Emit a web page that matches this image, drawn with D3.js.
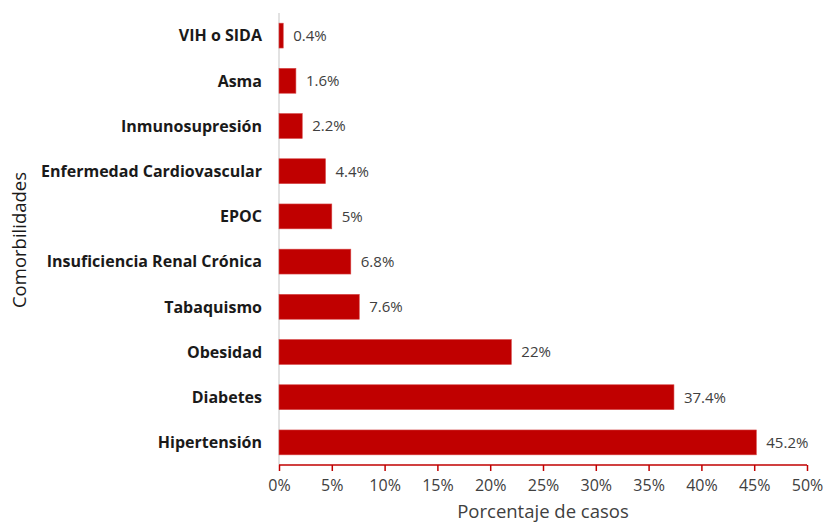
<!DOCTYPE html>
<html>
<head>
<meta charset="utf-8">
<script src="https://cdn.jsdelivr.net/npm/d3@7"></script>
<style>
  body { margin: 0; background: #fff; }
  text { font-family: "Open Sans", Lato, sans-serif; }
</style>
</head>
<body>
<div id="chart"></div>
<script>
// Chart data
const categories = ['VIH o SIDA', 'Asma', 'Inmunosupresión', 'Enfermedad Cardiovascular', 'EPOC',
    'Insuficiencia Renal Crónica', 'Tabaquismo', 'Obesidad', 'Diabetes', 'Hipertensión'];
const values = [0.4, 1.6, 2.2, 4.4, 5, 6.8, 7.6, 22, 37.4, 45.2];
const valueLabels = ['0.4%', '1.6%', '2.2%', '4.4%', '5%', '6.8%', '7.6%', '22%', '37.4%', '45.2%'];
const xTicks = [0, 5, 10, 15, 20, 25, 30, 35, 40, 45, 50];

const svgWidth = 826;
const svgHeight = 523;

const chartMargin = { top: 13, right: 19, bottom: 58, left: 279 };
const chartWidth = svgWidth - chartMargin.left - chartMargin.right;
const chartHeight = svgHeight - chartMargin.top - chartMargin.bottom;

const data = categories.map((c, i) => ({ name: c, value: values[i], label: valueLabels[i] }));

const svg = d3.select('#chart')
    .append('svg')
    .attr('width', svgWidth)
    .attr('height', svgHeight);

const chartGroup = svg.append('g')
    .attr('transform', `translate(${chartMargin.left}, ${chartMargin.top})`);

const xScale = d3.scaleLinear()
    .domain([0, 50])
    .range([0, 528]);

const yScale = d3.scaleBand()
    .domain(categories)
    .range([0, chartHeight])
    .paddingInner(0.45)
    .paddingOuter(0.225);

// vertical category axis line
chartGroup.append('line')
    .attr('x1', 0).attr('x2', 0)
    .attr('y1', 0).attr('y2', chartHeight)
    .attr('stroke', '#d9d9d9')
    .attr('stroke-width', 1.5);

// bars
chartGroup.selectAll('rect.bar')
    .data(data)
    .enter()
    .append('rect')
    .attr('class', 'bar')
    .attr('x', xScale(0))
    .attr('y', d => yScale(d.name))
    .attr('width', d => xScale(d.value))
    .attr('height', yScale.bandwidth())
    .attr('fill', '#c00000')
    .attr('stroke', '#d64545')
    .attr('stroke-width', 0.6);

// value labels
chartGroup.selectAll('text.val')
    .data(data)
    .enter()
    .append('text')
    .attr('class', 'val')
    .text(d => d.label)
    .attr('x', d => xScale(d.value) + 10)
    .attr('y', d => yScale(d.name) + yScale.bandwidth() / 2)
    .attr('dy', '0.36em')
    .attr('font-size', 15)
    .attr('fill', '#404040');

// category labels
chartGroup.selectAll('text.cat')
    .data(data)
    .enter()
    .append('text')
    .attr('class', 'cat')
    .text(d => d.name)
    .attr('x', -17)
    .attr('y', d => yScale(d.name) + yScale.bandwidth() / 2)
    .attr('dy', '0.36em')
    .attr('text-anchor', 'end')
    .attr('font-size', 16)
    .attr('font-weight', 'bold')
    .attr('fill', '#1a1a1a');

// x axis
const xAxis = d3.axisBottom(xScale)
    .tickValues(xTicks)
    .tickSize(6)
    .tickPadding(9)
    .tickFormat(d => d + '%');

const xg = chartGroup.append('g')
    .attr('transform', `translate(0, ${chartHeight})`)
    .call(xAxis);

xg.select('.domain').remove();
xg.append('line')
    .attr('x1', 0).attr('x2', xScale(50))
    .attr('stroke', '#c00000')
    .attr('stroke-width', 1.5);
xg.selectAll('.tick line')
    .attr('stroke', '#c00000')
    .attr('stroke-width', 1.5);
xg.selectAll('.tick text')
    .attr('font-size', 16)
    .attr('fill', '#404040')
    .style('font-family', '"Open Sans", Lato, sans-serif');

// axis titles
svg.append('text')
    .text('Porcentaje de casos')
    .attr('x', 543)
    .attr('y', 518)
    .attr('text-anchor', 'middle')
    .attr('font-size', 18.5)
    .attr('fill', '#404040');

svg.append('text')
    .text('Comorbilidades')
    .attr('transform', 'translate(26, 240) rotate(-90)')
    .attr('text-anchor', 'middle')
    .attr('font-size', 18.5)
    .attr('fill', '#1a1a1a');
</script>
</body>
</html>
